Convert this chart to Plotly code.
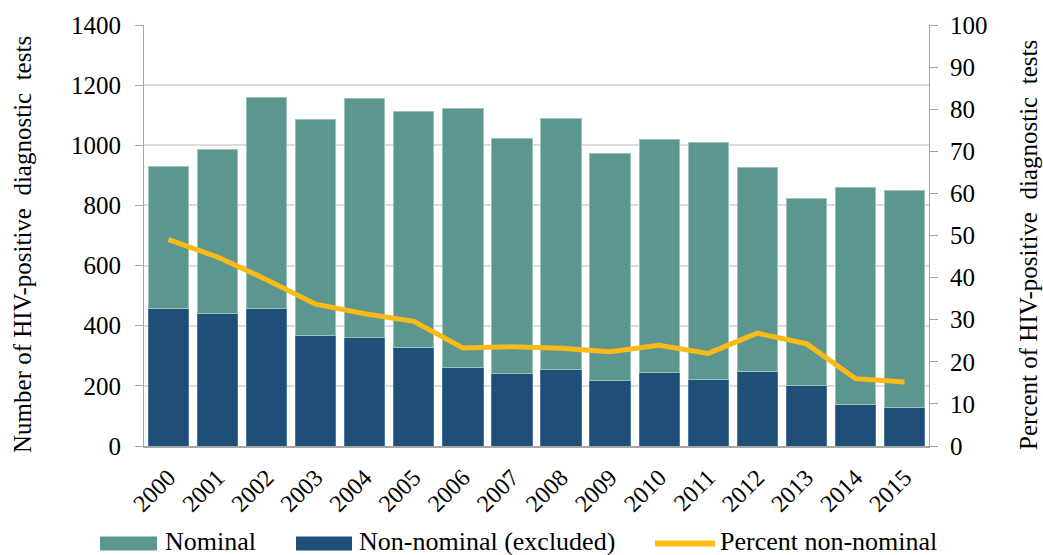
import plotly.graph_objects as go

# Annual HIV-positive diagnostic tests, split by reporting type
years = ["2000", "2001", "2002", "2003", "2004", "2005", "2006", "2007",
         "2008", "2009", "2010", "2011", "2012", "2013", "2014", "2015"]
non_nominal = [456, 442, 457, 366, 362, 329, 262, 241,
               253, 218, 243, 222, 248, 200, 138, 129]
nominal = [474, 543, 701, 719, 792, 784, 862, 782,
           836, 754, 775, 788, 678, 624, 723, 720]
pct_non_nominal = [49.0, 44.9, 39.5, 33.7, 31.4, 29.6, 23.3, 23.6,
                   23.2, 22.4, 23.9, 22.0, 26.8, 24.3, 16.0, 15.2]

left_ticks = [0, 200, 400, 600, 800, 1000, 1200, 1400]
right_ticks = [0, 10, 20, 30, 40, 50, 60, 70, 80, 90, 100]

TEAL = "#5C978F"
NAVY = "#1F4E79"
GOLD = "#FBBA16"
FONT = "Liberation Serif, Times New Roman, serif"

W, H = 1043, 555
ML, MR, MT, MB = 144, 114, 23, 109

fig = go.Figure()
fig.add_trace(go.Bar(
    x=years, y=non_nominal, name="Non-nominal (excluded)",
    marker=dict(color=NAVY, line=dict(color="#4F7399", width=1)),
))
fig.add_trace(go.Bar(
    x=years, y=nominal, name="Nominal",
    marker=dict(color=TEAL, line=dict(color="#9CC2BC", width=1)),
))
fig.add_trace(go.Scatter(
    x=years, y=pct_non_nominal, name="Percent non-nominal", yaxis="y2",
    mode="lines", line=dict(color=GOLD, width=5),
))

axis_font = dict(family=FONT, size=25, color="black")

fig.update_layout(
    width=W, height=H,
    margin=dict(l=ML, r=MR, t=MT, b=MB),
    paper_bgcolor="white", plot_bgcolor="white",
    barmode="stack", bargap=0.18,
    showlegend=False,
    font=dict(family=FONT, color="black"),
    xaxis=dict(
        type="category", tickangle=-45, tickfont=dict(family=FONT, size=24),
        showline=True, linecolor="#A6A6A6", linewidth=2,
        ticks="", showgrid=False, ticklabelstandoff=6,
    ),
    yaxis=dict(
        range=[0, 1400], tickvals=left_ticks, tickfont=axis_font,
        showline=True, linecolor="#A6A6A6", linewidth=1,
        ticks="outside", ticklen=8, tickcolor="#A6A6A6", ticklabelstandoff=9,
        showgrid=True, gridcolor="#DCDCDC", gridwidth=1.5, zeroline=False,
    ),
    yaxis2=dict(
        range=[0, 100], tickvals=right_ticks, tickfont=axis_font,
        overlaying="y", side="right",
        showline=True, linecolor="#A6A6A6", linewidth=1,
        ticks="outside", ticklen=8, tickcolor="#A6A6A6", ticklabelstandoff=7,
        showgrid=False, zeroline=False,
    ),
)

# Pixel-to-paper helpers for items placed outside the plotting area
pw, ph = W - ML - MR, H - MT - MB


def px(xp):
    return (xp - ML) / pw


def py(yp):
    return (H - MB - yp) / ph


# Axis titles
fig.add_annotation(text="Number of HIV-positive  diagnostic  tests",
                   xref="paper", yref="paper", x=px(23), y=py(244),
                   xanchor="center", yanchor="middle", textangle=-90,
                   showarrow=False, font=dict(family=FONT, size=25, color="black"))
fig.add_annotation(text="Percent of HIV-positive  diagnostic  tests",
                   xref="paper", yref="paper", x=px(1029), y=py(244),
                   xanchor="center", yanchor="middle", textangle=-90,
                   showarrow=False, font=dict(family=FONT, size=25, color="black"))

# Legend row beneath the plot
legend_items = [
    ("rect", TEAL, 100, 157, "Nominal", 163),
    ("rect", NAVY, 296, 352, "Non-nominal (excluded)", 357),
    ("line", GOLD, 655, 715, "Percent non-nominal", 718),
]
ly_top, ly_bot, ly_mid = 537, 551, 544
for kind, color, x0, x1, label, tx in legend_items:
    if kind == "rect":
        fig.add_shape(type="rect", xref="paper", yref="paper",
                      x0=px(x0), x1=px(x1), y0=py(ly_bot), y1=py(ly_top),
                      fillcolor=color, line=dict(width=0))
    else:
        fig.add_shape(type="line", xref="paper", yref="paper",
                      x0=px(x0), x1=px(x1), y0=py(ly_mid), y1=py(ly_mid),
                      line=dict(color=color, width=6))
    fig.add_annotation(text=label, xref="paper", yref="paper",
                       x=px(tx), y=py(542), xanchor="left", yanchor="middle",
                       showarrow=False, font=dict(family=FONT, size=26, color="black"))

fig.write_html("out.html")
